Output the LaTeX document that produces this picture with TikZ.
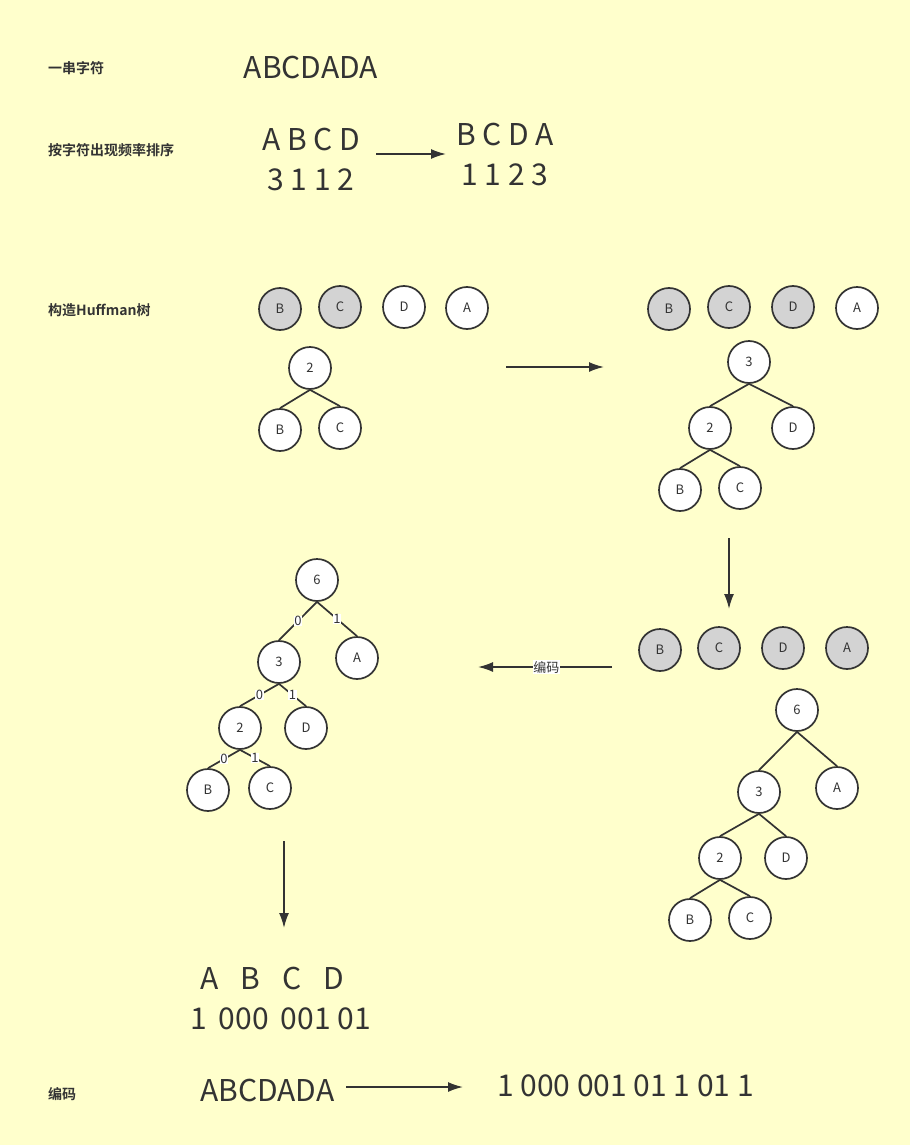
\documentclass[tikz,border=0pt]{standalone}
\usepackage{fontspec}
\setmainfont{Noto Sans CJK SC}[BoldFont={Noto Sans CJK SC Bold}]
\usetikzlibrary{arrows.meta}
\definecolor{bg}{HTML}{FFFFCC}
\definecolor{ink}{HTML}{333333}
\definecolor{gr}{HTML}{D3D3D3}
\tikzset{
  circ/.style={circle, draw=ink, line width=1.7pt, minimum size=42pt, inner sep=0pt, fill=white, text=ink, font=\fontsize{13}{13}\selectfont},
  grayc/.style={circ, fill=gr},
  edge/.style={draw=ink, line width=1.7pt},
  arr/.style={draw=ink, line width=1.7pt, -{Latex[length=15pt,width=10pt]}},
  big/.style={text=ink, font=\fontsize{30}{30}\selectfont, inner sep=0pt},
  lab/.style={text=ink, font=\fontsize{14}{14}\selectfont\bfseries, inner sep=0pt, anchor=west},
  elab/.style={fill=white, text=ink, inner sep=0.6pt, font=\fontsize{13}{13}\selectfont},
}
\begin{document}
\begin{tikzpicture}[x=1pt,y=-1pt]
\fill[bg] (0,0) rectangle (910,1145);
\useasboundingbox (0,0) rectangle (910,1145);

% labels
\node[lab] (l1) at (48,68) {一串字符};
\node[lab] (l2) at (48,150) {按字符出现频率排序};
\node[lab] (l3) at (48,310) {构造Huffman树};
\node[lab] (l4) at (48,1094) {编码};

% top texts
\node[big] (s1) at (311,68) {ABCDADA};
\node[big] (t1) at (311,140) {A B C D};
\node[big] (t2) at (311,180) {3 1 1 2};
\node[big] (t3) at (505,135) {B C D A};
\node[big] (t4) at (505,175) {1 1 2 3};
\coordinate (a1s) at (376,154);
\coordinate (a1e) at (446,154);
\draw[arr] (a1s) -- (a1e);

% stage 1
\node[grayc] (b1) at (280,309) {B};
\node[grayc] (c1) at (340,307) {C};
\node[circ] (d1) at (404,307) {D};
\node[circ] (e1) at (467,308) {A};
\node[circ] (n21) at (310,368) {2};
\node[circ] (nb1) at (280,430) {B};
\node[circ] (nc1) at (340,428) {C};
\draw[edge] (n21.south) -- (nb1.north);
\draw[edge] (n21.south) -- (nc1.north);
\coordinate (a2s) at (506,367);
\coordinate (a2e) at (604,367);
\draw[arr] (a2s) -- (a2e);

% stage 2
\node[grayc] (b2) at (669,309) {B};
\node[grayc] (c2) at (729,307) {C};
\node[grayc] (d2) at (793,307) {D};
\node[circ] (e2) at (857,308) {A};
\node[circ] (n32) at (749,362) {3};
\node[circ] (n22) at (710,428) {2};
\node[circ] (nd2) at (793,428) {D};
\node[circ] (nb2) at (680,490) {B};
\node[circ] (nc2) at (740,488) {C};
\draw[edge] (n32.south) -- (n22.north);
\draw[edge] (n32.south) -- (nd2.north);
\draw[edge] (n22.south) -- (nb2.north);
\draw[edge] (n22.south) -- (nc2.north);
\coordinate (a3s) at (729,538);
\coordinate (a3e) at (729,609);
\draw[arr] (a3s) -- (a3e);

% stage 3
\node[grayc] (b3) at (660,650) {B};
\node[grayc] (c3) at (719,648) {C};
\node[grayc] (d3) at (783,648) {D};
\node[grayc] (e3) at (847,648) {A};
\node[circ] (n63) at (797,710) {6};
\node[circ] (n33) at (759,792) {3};
\node[circ] (na3) at (837,788) {A};
\node[circ] (n23) at (720,858) {2};
\node[circ] (nd3) at (786,858) {D};
\node[circ] (nb3) at (690,920) {B};
\node[circ] (nc3) at (750,918) {C};
\draw[edge] (n63.south) -- (n33.north);
\draw[edge] (n63.south) -- (na3.north);
\draw[edge] (n33.south) -- (n23.north);
\draw[edge] (n33.south) -- (nd3.north);
\draw[edge] (n23.south) -- (nb3.north);
\draw[edge] (n23.south) -- (nc3.north);

\coordinate (a4s) at (612,667);
\coordinate (a4e) at (478,667);
\draw[arr] (a4s) -- (a4e) node[elab, pos=0.49] (enc) {编码};

% stage 4 (coded tree)
\node[circ] (n64) at (317,580) {6};
\node[circ] (n34) at (279,662) {3};
\node[circ] (na4) at (357,658) {A};
\node[circ] (n24) at (240,728) {2};
\node[circ] (nd4) at (306,728) {D};
\node[circ] (nb4) at (208,790) {B};
\node[circ] (nc4) at (270,788) {C};
\draw[edge] (n64.south) -- (n34.north) node[elab, midway] (e01) {0};
\draw[edge] (n64.south) -- (na4.north) node[elab, midway] (e02) {1};
\draw[edge] (n34.south) -- (n24.north) node[elab, midway] (e03) {0};
\draw[edge] (n34.south) -- (nd4.north) node[elab, midway] (e04) {1};
\draw[edge] (n24.south) -- (nb4.north) node[elab, midway] (e05) {0};
\draw[edge] (n24.south) -- (nc4.north) node[elab, midway] (e06) {1};

\coordinate (a5s) at (284,841);
\coordinate (a5e) at (284,928);
\draw[arr] (a5s) -- (a5e);

\node[big, anchor=west] (r1) at (200,978) {A\hspace{22pt}B\hspace{22pt}C\hspace{22pt}D};
\node[big, anchor=west] (r2) at (190,1019) {1\hspace{12pt}000\hspace{12pt}001 01};

% bottom
\node[big, anchor=west] (f1) at (200,1090) {ABCDADA};
\coordinate (a6s) at (346,1087);
\coordinate (a6e) at (463,1087);
\draw[arr] (a6s) -- (a6e);
\node[big, anchor=west] (f2) at (497,1086) {1 000 001 01 1 01 1};
\end{tikzpicture}
\end{document}
